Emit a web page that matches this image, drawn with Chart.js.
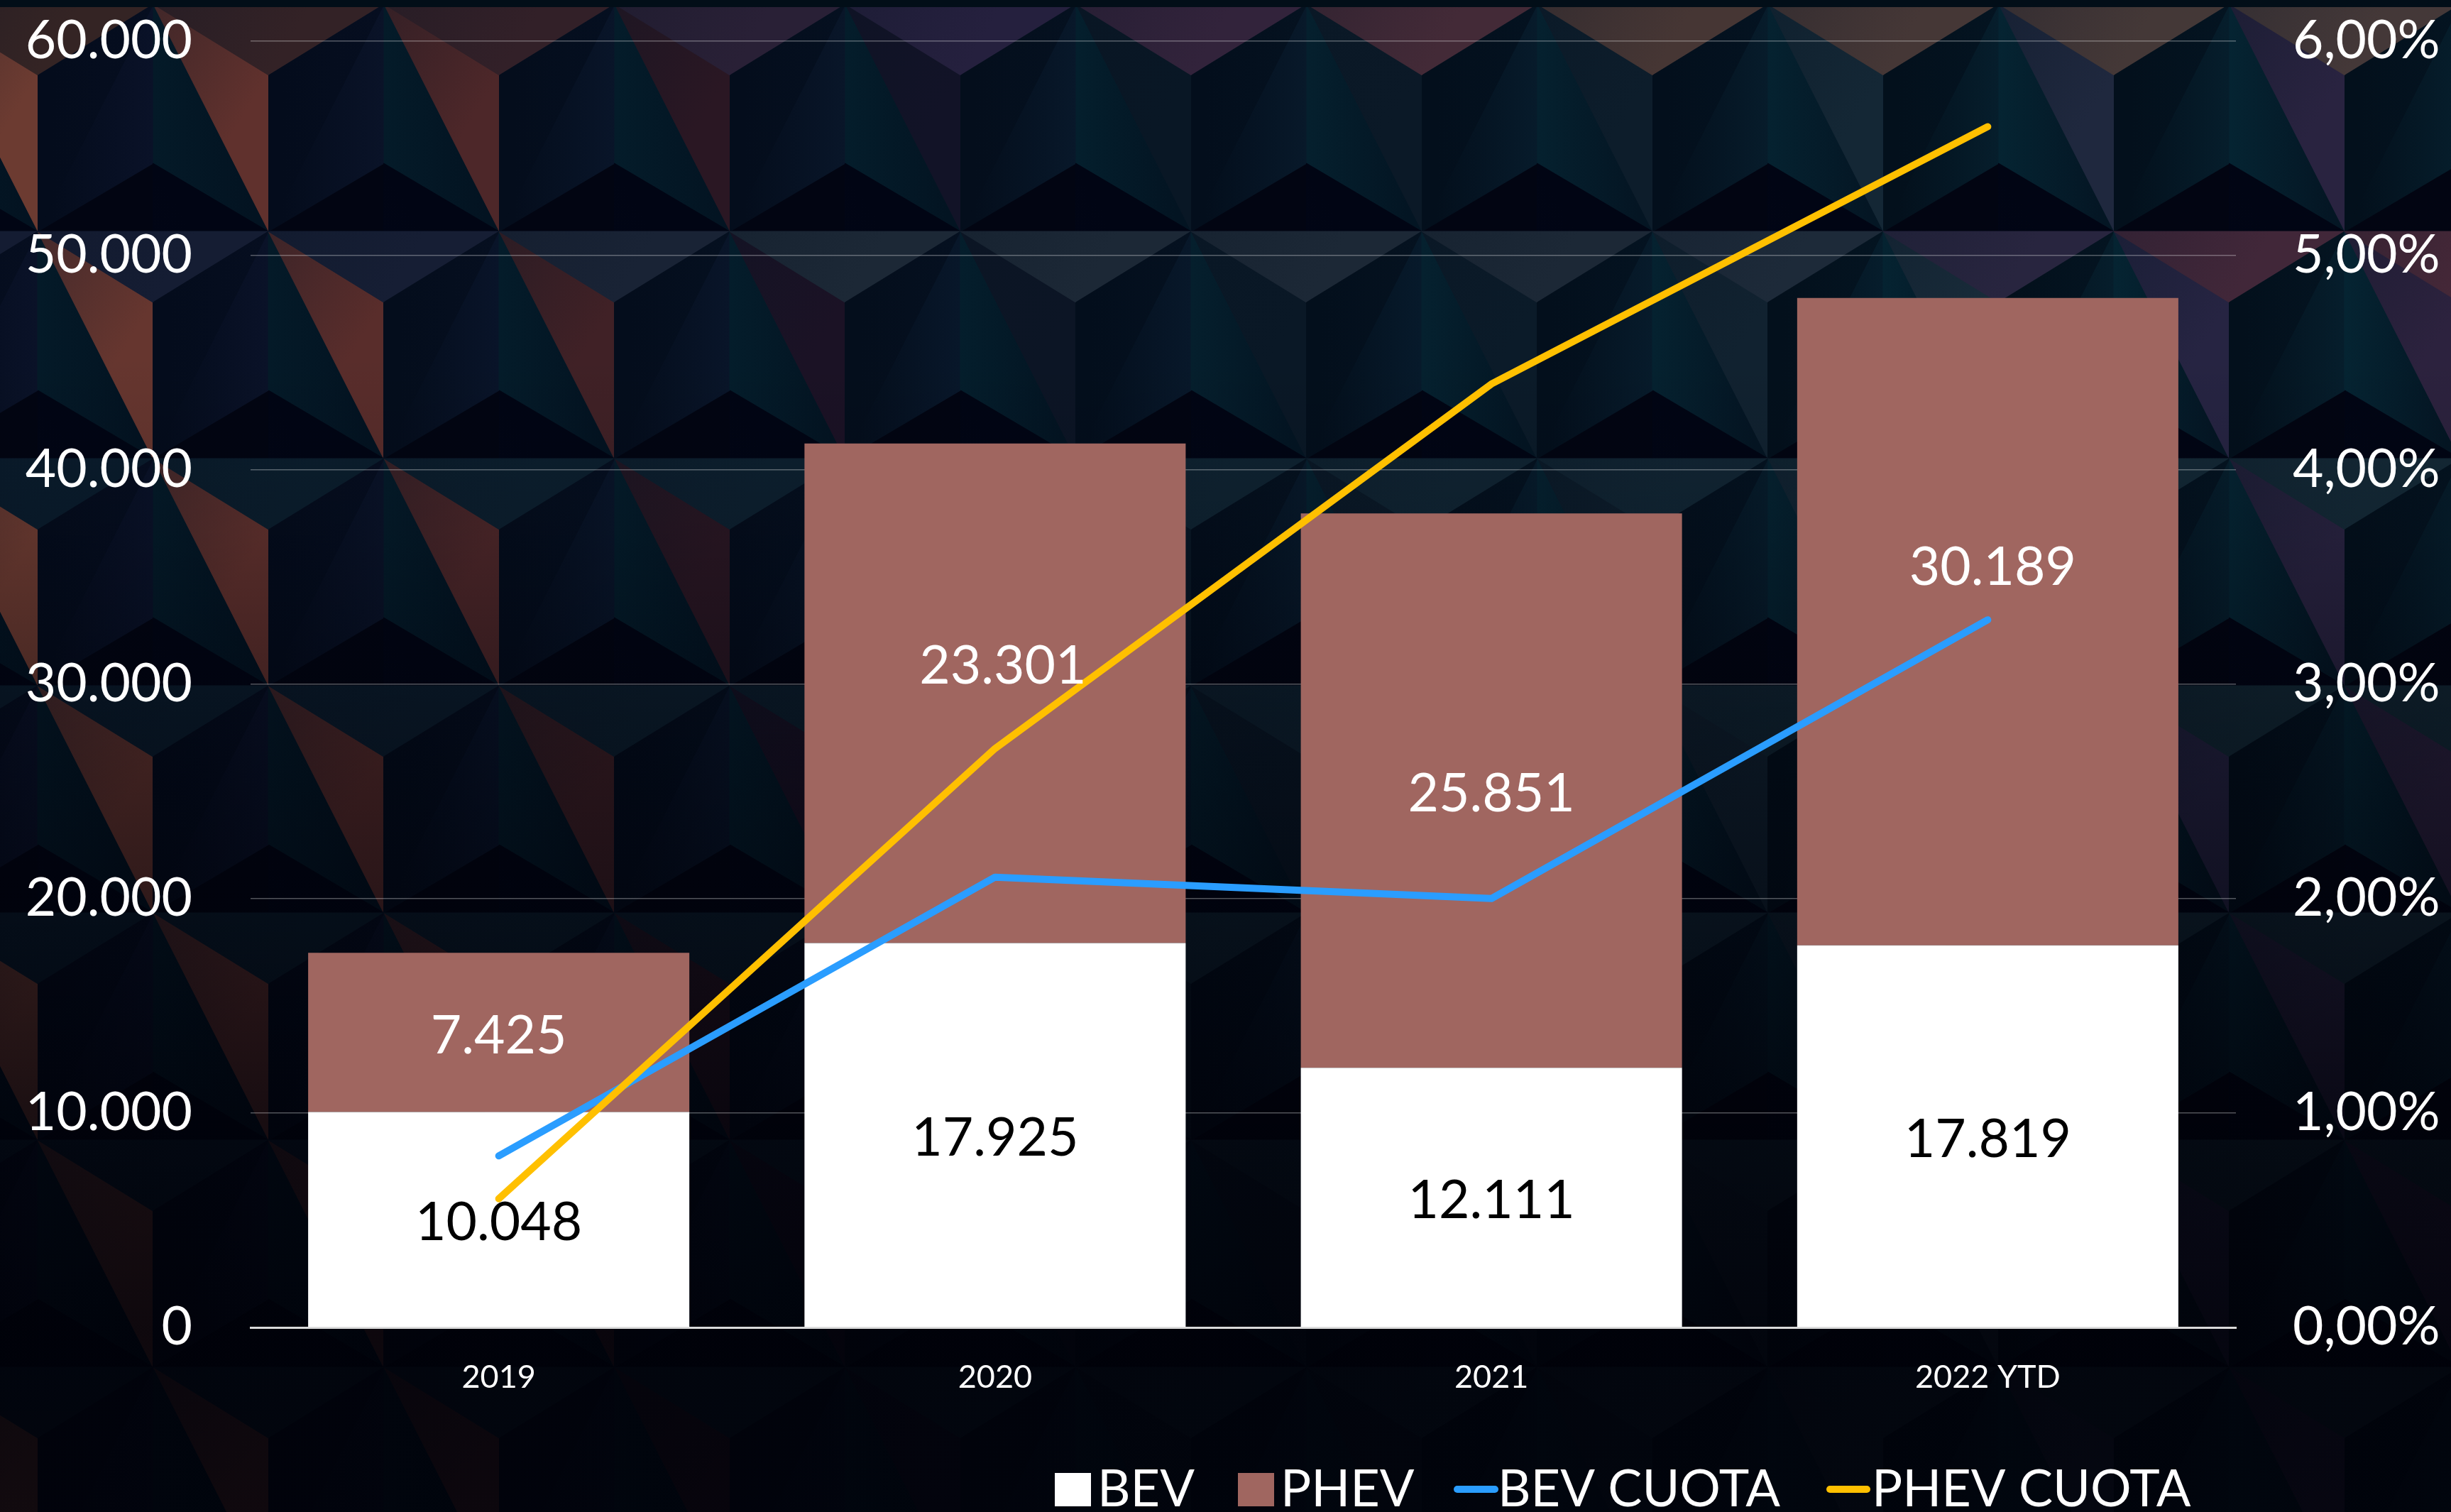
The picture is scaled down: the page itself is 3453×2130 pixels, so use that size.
<!DOCTYPE html>
<html lang="es">
<head>
<meta charset="utf-8">
<title>BEV / PHEV</title>
<style>html,body{margin:0;padding:0;background:#02040f}canvas{display:block}</style>
<script src="https://cdn.jsdelivr.net/npm/chart.js@4/dist/chart.umd.min.js"></script>
</head>
<body>
<canvas id="c" width="3453" height="2130"></canvas>
<script>
const categories = ['2019', '2020', '2021', '2022 YTD'];
const bev = [10048, 17925, 12111, 17819];
const phev = [7425, 23301, 25851, 30189];
const bevCuota = [0.8, 2.1, 2.0, 3.3];
const phevCuota = [0.6, 2.7, 4.4, 5.6];
const leftTicks = ['0', '10.000', '20.000', '30.000', '40.000', '50.000', '60.000'];
const rightTicks = ['0,00%', '1,00%', '2,00%', '3,00%', '4,00%', '5,00%', '6,00%'];
const bevLabels = ['10.048', '17.925', '12.111', '17.819'];
const phevLabels = ['7.425', '23.301', '25.851', '30.189'];

const FONT = 'Lato, Carlito, "Open Sans", sans-serif';
const clamp = (v, a, b) => Math.max(a, Math.min(b, v));
const mix = (p, q, t) => p.map((v, i) => v + (q[i] - v) * t);
const rgb = c => `rgb(${c.map(v => Math.round(v)).join(',')})`;
const ramp = (table, x) => {
  if (x <= table[0][0]) return table[0][1];
  for (let i = 1; i < table.length; i++) {
    if (x <= table[i][0]) return mix(table[i - 1][1], table[i][1], (x - table[i - 1][0]) / (table[i][0] - table[i - 1][0]));
  }
  return table[table.length - 1][1];
};

const WARM = [[0, [110, 60, 50]], [500, [92, 46, 44]], [850, [66, 34, 38]], [1100, [32, 18, 34]], [1300, [20, 18, 40]], [1600, [9, 22, 36]], [2300, [12, 28, 42]], [2800, [24, 44, 58]], [3150, [38, 36, 66]], [3453, [44, 34, 62]]];
const TOP_ROW = [[0, [52, 36, 36]], [800, [50, 32, 40]], [1150, [36, 32, 62]], [1500, [38, 32, 62]], [1900, [66, 38, 56]], [2300, [70, 54, 52]], [3200, [68, 56, 56]]];
const SECOND_ROW = [[0, [20, 28, 50]], [600, [22, 30, 52]], [1100, [28, 40, 54]], [2300, [28, 40, 54]], [2650, [30, 44, 60]], [2850, [42, 36, 64]], [3200, [70, 40, 56]]];
const LOWER_ROW = [[0, [10, 28, 44]], [3453, [20, 42, 54]]];
const SHADE = [[0, 0], [500, 0], [750, .12], [1000, .35], [1300, .55], [1560, .74], [1870, .86], [2130, .84]];

const backdrop = {
  id: 'backdrop',
  beforeDraw(chart) {
    const g = chart.ctx, W = chart.width, H = chart.height;
    const PW = 325, PH = 320, UP = 96, DN = 100;
    g.save();
    g.fillStyle = '#020512';
    g.fillRect(0, 0, W, H);
    const face = (pts, from, to, c1, c2) => {
      const gr = g.createLinearGradient(from[0], from[1], to[0], to[1]);
      gr.addColorStop(0, rgb(c1));
      gr.addColorStop(1, rgb(c2));
      g.fillStyle = gr;
      g.strokeStyle = gr;
      g.lineWidth = 1;
      g.beginPath();
      pts.forEach((p, i) => i ? g.lineTo(p[0], p[1]) : g.moveTo(p[0], p[1]));
      g.closePath();
      g.fill();
      g.stroke();
    };
    for (let r = -1; r < 8; r++) {
      const y = r * PH + 6;
      const off = (r + 2) % 2 === 0 ? 216 : 378;
      for (let k = -2; k < 13; k++) {
        const x = off + k * PW;
        const V = [x, y], R = [x + PW, y];
        const D = [x + PW / 2, y + DN], U = [x + PW / 2, y - UP];
        const W1 = [x + PW / 2, y + PH], W0 = [x - PW / 2, y + PH];
        const D0 = [x - PW / 2, y + DN], U2 = [x, y + PH - UP];
        const east = clamp((x - 300) / 2600, 0, 1);
        const midX = x + PW / 2;
        const warm = ramp(WARM, midX);
        const axisY = [x, y + 160], rightEdge = [x + PW / 2 - 20, y + 160], leftEdge = [x - PW / 2 + 20, y + 160];
        // west of the vertical axis: fades from the axis to the dark fold
        const navy = mix([10, 18, 40], [6, 30, 44], east);
        const navyFar = mix([4, 12, 28], [3, 16, 28], east);
        face([V, U2, W0], axisY, leftEdge, navy, navyFar);
        face([V, D0, W0], axisY, leftEdge, mix(navyFar, navy, .3), navyFar);
        // east of the axis: brighter blue-green
        const teal = mix([4, 26, 40], [5, 36, 50], east);
        face([V, W1, U2], axisY, rightEdge, teal, mix(teal, [3, 16, 30], .7));
        // fold facing the light
        face([V, W1, D], V, D, mix(warm, [8, 20, 34], .35), warm);
        // dark triangle above the row
        face([U, [x + PW / 2, y], V, R], V, U, [2, 6, 24], [1, 5, 20]);
        // lit triangle below the row
        const low = r === 0 ? ramp(TOP_ROW, midX) : r === 1 ? ramp(SECOND_ROW, midX) : ramp(LOWER_ROW, midX);
        face([V, R, D], V, D, mix(low, [8, 18, 34], .25), low);
      }
    }
    g.fillStyle = 'rgb(2,14,24)';
    g.fillRect(0, 0, W, 10);
    const shade = g.createLinearGradient(0, 0, 0, H);
    SHADE.forEach(s => shade.addColorStop(s[0] / H, `rgba(0,1,8,${s[1]})`));
    g.fillStyle = shade;
    g.fillRect(0, 0, W, H);
    g.restore();
  }
};

const barLabels = {
  id: 'barLabels',
  afterDatasetsDraw(chart, args, opts) {
    const g = chart.ctx;
    g.save();
    g.font = `${opts.size}px ${FONT}`;
    g.textAlign = 'center';
    g.textBaseline = 'middle';
    opts.sets.forEach(set => {
      const meta = chart.getDatasetMeta(set.dataset);
      set.labels.forEach((text, i) => {
        const bar = meta.data[i];
        const nudge = set.nudge[i];
        g.fillStyle = set.color;
        g.fillText(text, bar.x + nudge[0], (bar.y + bar.base) / 2 + nudge[1]);
      });
    });
    g.restore();
  }
};

const chartLegend = {
  id: 'chartLegend',
  afterDraw(chart, args, opts) {
    const g = chart.ctx;
    g.save();
    g.font = `${opts.size}px ${FONT}`;
    g.textAlign = 'left';
    g.textBaseline = 'alphabetic';
    opts.items.forEach(item => {
      const ds = chart.data.datasets[item.dataset];
      if (ds.type === 'bar') {
        g.fillStyle = ds.backgroundColor;
        g.fillRect(item.x, opts.boxTop, item.w, opts.baseline - opts.boxTop);
      } else {
        g.strokeStyle = ds.borderColor;
        g.lineWidth = 10;
        g.lineCap = 'round';
        g.beginPath();
        g.moveTo(item.x + 5, opts.lineY);
        g.lineTo(item.x + item.w - 5, opts.lineY);
        g.stroke();
      }
      g.fillStyle = '#fff';
      g.fillText(ds.label, item.text, opts.baseline);
    });
    g.restore();
  }
};

const noPad = scale => { scale.paddingTop = 0; scale.paddingBottom = 0; };

new Chart(document.getElementById('c'), {
  data: {
    labels: categories,
    datasets: [
      { type: 'bar', label: 'BEV', data: bev, backgroundColor: '#ffffff', yAxisID: 'y', order: 2, stack: 's', barPercentage: 0.768, categoryPercentage: 1 },
      { type: 'bar', label: 'PHEV', data: phev, backgroundColor: '#a06660', yAxisID: 'y', order: 3, stack: 's', barPercentage: 0.768, categoryPercentage: 1 },
      { type: 'line', label: 'BEV CUOTA', data: bevCuota, borderColor: '#2a9dff', backgroundColor: '#2a9dff', borderWidth: 10, borderCapStyle: 'round', borderJoinStyle: 'round', pointRadius: 0, tension: 0, fill: false, yAxisID: 'y1', order: 1 },
      { type: 'line', label: 'PHEV CUOTA', data: phevCuota, borderColor: '#ffc000', backgroundColor: '#ffc000', borderWidth: 10, borderCapStyle: 'round', borderJoinStyle: 'round', pointRadius: 0, tension: 0, fill: false, yAxisID: 'y1', order: 0 }
    ]
  },
  options: {
    responsive: false,
    animation: false,
    devicePixelRatio: 1,
    layout: { padding: { top: 57.6, left: 0, right: 0, bottom: 0 } },
    scales: {
      x: {
        stacked: true,
        afterFit: s => { s.height = 260; },
        grid: { display: false, drawTicks: false },
        border: { display: true, color: '#d9d9d9', width: 3 },
        ticks: { color: '#fff', font: { family: FONT, size: 45 }, padding: 43, maxRotation: 0, autoSkip: false }
      },
      y: {
        stacked: true,
        position: 'left',
        min: 0, max: 60000,
        afterFit: s => { s.width = 353; noPad(s); },
        grid: { color: 'rgba(255,255,255,.32)', lineWidth: 1.5, drawTicks: false },
        border: { display: false },
        ticks: { stepSize: 10000, padding: 82, color: '#fff', font: { family: FONT, size: 75 }, callback: (v, i) => leftTicks[i] }
      },
      y1: {
        stacked: false,
        position: 'right',
        min: 0, max: 6,
        afterFit: s => { s.width = 303; noPad(s); },
        grid: { display: false, drawTicks: false },
        border: { display: false },
        ticks: { stepSize: 1, padding: 80, color: '#fff', font: { family: FONT, size: 75 }, callback: (v, i) => rightTicks[i] }
      }
    },
    plugins: {
      legend: { display: false },
      tooltip: { enabled: false },
      barLabels: {
        size: 75,
        sets: [
          { dataset: 0, labels: bevLabels, color: '#000', nudge: [[0, 5], [0, 5], [0, 5], [0, 5]] },
          { dataset: 1, labels: phevLabels, color: '#fff', nudge: [[0, 5], [11, -38], [0, 5], [7, -76]] }
        ]
      },
      chartLegend: {
        size: 72, baseline: 2122, boxTop: 2075, lineY: 2098,
        items: [
          { dataset: 0, x: 1486, w: 51, text: 1546 },
          { dataset: 1, x: 1744, w: 51, text: 1804 },
          { dataset: 2, x: 2048, w: 63, text: 2110 },
          { dataset: 3, x: 2573, w: 62, text: 2637 }
        ]
      }
    }
  },
  plugins: [backdrop, barLabels, chartLegend]
});
</script>
</body>
</html>
